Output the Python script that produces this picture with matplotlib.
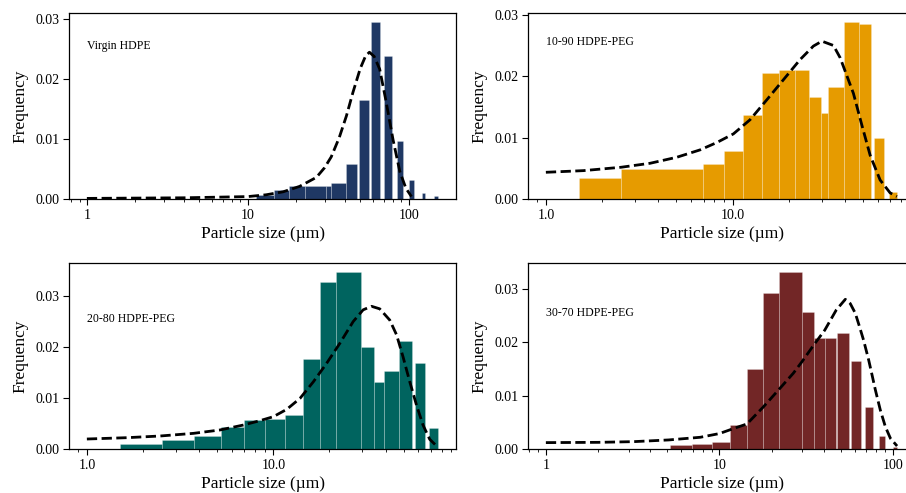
import matplotlib
matplotlib.use("Agg")
import matplotlib.pyplot as plt
from matplotlib.ticker import FormatStrFormatter, NullFormatter, MultipleLocator

plt.rcParams['font.family'] = ['Liberation Serif', 'DejaVu Serif']

# ---------------- data ----------------
labels = ["Virgin HDPE", "10-90 HDPE-PEG", "20-80 HDPE-PEG", "30-70 HDPE-PEG"]
colors = ["#1f3864", "#e69b00", "#00645f", "#722626"]
xfmt = ["%g", "%.1f", "%.1f", "%g"]

# Panel 1: Virgin HDPE
p1_left = [11.3, 14.5, 18.0, 22.6, 30.5, 33.0, 40.5, 48.8, 58.7, 70.0, 84.3, 101, 120.5, 144]
p1_right = [14.5, 18.0, 22.6, 30.5, 33.0, 40.5, 47.6, 56.5, 66.5, 78.9, 91.8, 108.4, 127, 153]
p1_freq = [0.0006, 0.0015, 0.0022, 0.0022, 0.0021, 0.0026, 0.0059, 0.0164, 0.0294, 0.0238,
           0.0097, 0.0031, 0.0010, 0.0005]
p1_fit_x = [1, 4, 10, 13, 16.6, 21, 26.7, 30, 33, 37, 41, 45, 50, 54, 57, 61, 66, 72, 80, 88, 96, 104]
p1_fit_y = [0.0001, 0.0002, 0.0004, 0.0007, 0.0012, 0.0021, 0.0036, 0.0052, 0.0070, 0.0102,
            0.0138, 0.0177, 0.0217, 0.0238, 0.0244, 0.0237, 0.0216, 0.0165, 0.0098, 0.0046,
            0.0018, 0.0004]

# Panel 2: 10-90 HDPE-PEG
p2_left = [1.51, 2.53, 6.93, 9.02, 11.4, 14.4, 17.8, 21.5, 25.8, 29.7, 32.6, 39.6, 47.5, 57.5, 69.2]
p2_right = [2.53, 6.93, 9.02, 11.4, 14.4, 17.8, 21.5, 25.8, 29.7, 32.6, 39.6, 47.5, 55.2, 65.1, 76.4]
p2_freq = [0.00337, 0.00484, 0.00566, 0.00783, 0.01375, 0.0205, 0.0210, 0.0210, 0.0166, 0.0140,
           0.0182, 0.0288, 0.0285, 0.0099, 0.0012]
p2_fit_x = [1.0, 1.59, 2.53, 3.62, 5.03, 6.7, 8.24, 10.1, 12.4, 15.3, 18.7, 23, 27.1, 30.1, 34.7,
            37.7, 44.4, 49.3, 54.6, 61.7, 69.8, 75.9]
p2_fit_y = [0.00435, 0.00462, 0.00517, 0.00582, 0.0068, 0.0080, 0.0092, 0.0106, 0.0129, 0.0162,
            0.0194, 0.0227, 0.0249, 0.0257, 0.0250, 0.0230, 0.0172, 0.0120, 0.0071, 0.0031,
            0.0010, 0.0004]

# Panel 3: 20-80 HDPE-PEG
p3_left = [1.50, 2.52, 3.77, 5.22, 6.99, 9.0, 11.5, 14.4, 17.8, 21.8, 29.7, 34.6, 39.1, 47.3, 57.3, 68.4]
p3_right = [2.52, 3.77, 5.22, 6.99, 9.0, 11.5, 14.4, 17.8, 21.8, 29.7, 34.6, 39.1, 47.3, 55.2, 65.1, 76.8]
p3_freq = [0.00092, 0.00176, 0.00261, 0.00425, 0.0057, 0.0059, 0.00667, 0.01765, 0.0327, 0.0347,
           0.0201, 0.0132, 0.01536, 0.0212, 0.0168, 0.00405]
p3_fit_x = [1.0, 1.64, 2.47, 3.73, 5.17, 6.9, 8.48, 10, 11.8, 13.9, 16.4, 19.3, 22.7, 26.8, 30.3,
            33.6, 37.2, 42.1, 45.8, 49.6, 53.9, 58.6, 63.5, 69, 75]
p3_fit_y = [0.00196, 0.00222, 0.00255, 0.00307, 0.00373, 0.0047, 0.00556, 0.00634, 0.00778,
            0.00993, 0.0132, 0.0168, 0.0207, 0.0250, 0.0273, 0.0280, 0.0275, 0.0253, 0.0224,
            0.0181, 0.0132, 0.0086, 0.0047, 0.0019, 0.0006]

# Panel 4: 30-70 HDPE-PEG
p4_left = [5.2, 6.94, 9.05, 11.5, 14.4, 17.9, 21.9, 29.9, 34.9, 40.5, 47.5, 57.5, 69.2, 82.6, 100]
p4_right = [6.94, 9.05, 11.5, 14.4, 17.9, 21.9, 29.9, 34.9, 40.5, 47.1, 55.5, 65.4, 76.7, 90.3, 106]
p4_freq = [0.00075, 0.00094, 0.00138, 0.0045, 0.01495, 0.0292, 0.0332, 0.0258, 0.0209, 0.0209,
           0.0217, 0.0166, 0.0078, 0.00244, 0.0003]
p4_fit_x = [1, 2, 3.2, 5.1, 7.75, 10, 12.2, 14.4, 17.9, 21.9, 26.6, 29.9, 34.9, 40.4, 47.1, 53.1,
            56.7, 60.6, 64.2, 67.7, 72.4, 75.7, 79.1, 84.5, 90.3, 96.6, 105.5]
p4_fit_y = [0.0012, 0.00125, 0.00138, 0.0017, 0.0022, 0.0029, 0.0039, 0.0047, 0.0079, 0.0111,
            0.0142, 0.0164, 0.0195, 0.0223, 0.0261, 0.0281, 0.0273, 0.0255, 0.0229, 0.0204,
            0.0167, 0.0139, 0.0111, 0.0073, 0.0042, 0.0020, 0.00056]

panels = [
    (p1_left, p1_right, p1_freq, p1_fit_x, p1_fit_y),
    (p2_left, p2_right, p2_freq, p2_fit_x, p2_fit_y),
    (p3_left, p3_right, p3_freq, p3_fit_x, p3_fit_y),
    (p4_left, p4_right, p4_freq, p4_fit_x, p4_fit_y),
]

# ---------------- figure ----------------
W, H = 906, 493
fig = plt.figure(figsize=(W / 100, H / 100), dpi=100)
ax_w = 386.7 / W
ax_h = 185.7 / H
lefts = [69.3 / W, 528.3 / W]
bottoms = [1 - 199 / H, 1 - 449 / H]
positions = [(lefts[0], bottoms[0]), (lefts[1], bottoms[0]),
             (lefts[0], bottoms[1]), (lefts[1], bottoms[1])]

for i, (pos, (lft, rgt, freq, fx, fy)) in enumerate(zip(positions, panels)):
    ax = fig.add_axes([pos[0], pos[1], ax_w, ax_h])
    widths = [r - l for l, r in zip(lft, rgt)]
    ax.bar(lft, freq, width=widths, align='edge', color=colors[i],
           edgecolor=(1, 1, 1, 0.25), linewidth=0.6, zorder=2)
    ax.plot(fx, fy, color='black', linestyle='--', linewidth=2.0, zorder=3)
    ax.set_xscale('log')
    ax.xaxis.set_major_formatter(FormatStrFormatter(xfmt[i]))
    ax.xaxis.set_minor_formatter(NullFormatter())
    ax.yaxis.set_major_locator(MultipleLocator(0.01))
    ax.yaxis.set_major_formatter(FormatStrFormatter('%.2f'))
    ax.tick_params(axis='both', which='major', direction='out', length=4, width=0.8,
                   labelsize=10, pad=3)
    ax.tick_params(axis='x', which='minor', direction='out', length=2, width=0.6)
    for sp in ax.spines.values():
        sp.set_linewidth(0.9)
    ax.set_xlabel('Particle size (µm)', fontsize=12.5, labelpad=3)
    ax.set_ylabel('Frequency', fontsize=12.5, labelpad=5)
    ax.text(1, 0.0255, labels[i], fontsize=8.5, ha='left', va='center')

fig.savefig('out.png', dpi=100)
